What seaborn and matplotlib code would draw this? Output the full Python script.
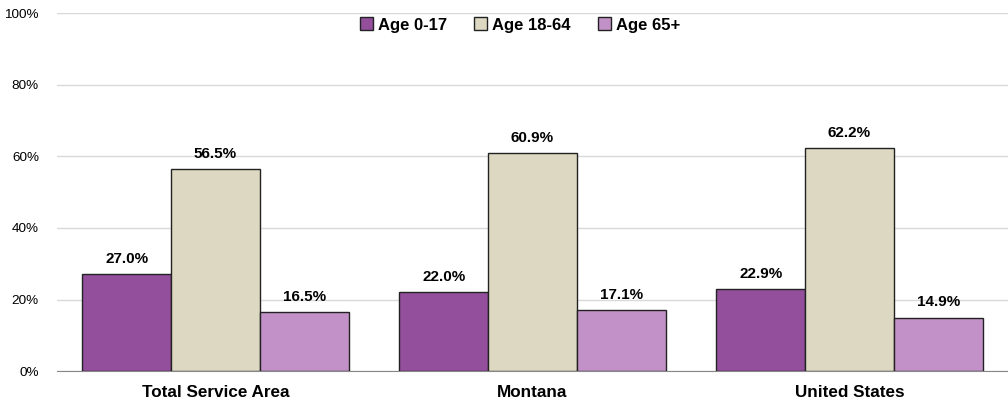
import pandas as pd
import seaborn as sns
import matplotlib.pyplot as plt

regions = ["Total Service Area", "Montana", "United States"]
groups = ["Age 0-17", "Age 18-64", "Age 65+"]
age_0_17 = [27.0, 22.0, 22.9]
age_18_64 = [56.5, 60.9, 62.2]
age_65 = [16.5, 17.1, 14.9]
colors = ["#934F9C", "#DDD8C2", "#C291C8"]

df = pd.DataFrame({
    "region": regions * 3,
    "group": [groups[0]] * 3 + [groups[1]] * 3 + [groups[2]] * 3,
    "value": age_0_17 + age_18_64 + age_65,
})

sns.set_style("white")
plt.rcParams["font.family"] = ["Liberation Sans", "DejaVu Sans"]
plt.rcParams["text.color"] = "black"
plt.rcParams["xtick.color"] = "black"
plt.rcParams["ytick.color"] = "black"

fig = plt.figure(figsize=(10.08, 4.11), dpi=100)
ax = fig.add_axes([0.0565, 0.097, 0.9435, 0.871])

sns.barplot(data=df, x="region", y="value", hue="group", order=regions,
            hue_order=groups, palette=colors, width=0.84, saturation=1,
            edgecolor="#222222", linewidth=1.0, ax=ax, zorder=3)

for cont in ax.containers:
    ax.bar_label(cont, labels=[f"{v:.1f}%" for v in cont.datavalues],
                 padding=6, fontsize=11, fontweight="bold")

ax.set_ylim(0, 100)
ax.set_yticks(range(0, 101, 20))
ax.set_yticklabels([f"{t}%" for t in range(0, 101, 20)], fontsize=9.7)
ax.tick_params(axis="x", labelsize=12.3, length=0, pad=10)
ax.tick_params(axis="y", length=0, pad=13)
for lab in ax.get_xticklabels():
    lab.set_fontweight("bold")
ax.set_xlabel("")
ax.set_ylabel("")
ax.grid(axis="y", color="#D9D9D9", linewidth=1, zorder=0)
for s in ["left", "right", "top"]:
    ax.spines[s].set_visible(False)
ax.spines["bottom"].set_color("#888888")

leg = ax.legend(loc="upper center", bbox_to_anchor=(0.487, 1.03), ncol=3,
                frameon=False, handlelength=0.8, handleheight=0.8,
                handletextpad=0.3, columnspacing=1.6,
                prop={"weight": "bold", "size": 12})
for h in leg.legend_handles:
    h.set_edgecolor("#222222")

fig.savefig("out.png", dpi=100)
